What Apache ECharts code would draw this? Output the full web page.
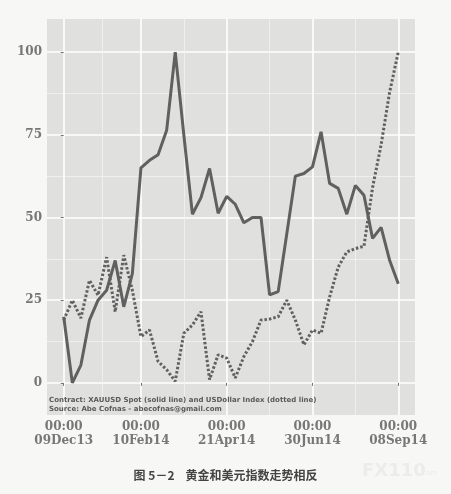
<!DOCTYPE html>
<html>
<head>
<meta charset="utf-8">
<script src="https://cdn.jsdelivr.net/npm/echarts@6/dist/echarts.min.js"></script>
<style>
  html, body { margin: 0; padding: 0; background: #f7f7f6; }
  #chart { width: 451px; height: 494px; }
</style>
</head>
<body>
<div id="chart"></div>
<script>
// weekly index, 0 = 09Dec13 ... 39 = 08Sep14
const goldSpot = [
  20, 0, 5.4, 19, 25, 28, 37, 23, 33, 65,
  67.3, 69, 76.4, 100, 75, 51, 56, 64.8, 51.3, 56.4,
  54, 48.4, 50, 50, 26.6, 27.6, 45, 62.5, 63.3, 65.3,
  75.9, 60.3, 58.8, 51, 59.7, 56.7, 43.7, 47, 37, 30
];
const dollarIndex = [
  19, 25, 19.6, 31, 26.5, 38, 21.5, 38.6, 28, 14,
  16, 6.5, 4, 0.5, 15, 17.5, 21.5, 1, 8.5, 7.5,
  1.5, 8, 12.5, 19, 19.3, 20, 25, 19, 11.5, 16,
  15, 26, 35, 39.6, 40.6, 41.3, 59, 72, 88, 100
];
const xTickWeeks = [0, 9, 19, 29, 39];
const xTickLabels = ['00:00\n09Dec13', '00:00\n10Feb14', '00:00\n21Apr14', '00:00\n30Jun14', '00:00\n08Sep14'];
const xMinorWeeks = [4.5, 14, 24, 34];
const yTicks = [0, 25, 50, 75, 100];
const yMinor = [12.5, 37.5, 62.5, 87.5];

const noteLines = [
  'Contract: XAUUSD Spot (solid line) and USDollar Index (dotted line)',
  'Source: Abe Cofnas - abecofnas@gmail.com'
];
const caption = '图 5－2    黄金和美元指数走势相反';

const lineColor = '#606060';
const tickFont = { fontFamily: 'DejaVu Serif', fontWeight: 'bold', fontSize: 12, color: '#777777' };

function pairs(values) {
  return values.map((v, i) => [i, v]);
}

const chart = echarts.init(document.getElementById('chart'), null, { renderer: 'canvas' });

const xMin = -1.95, xMax = 40.95, yMin = -9.7, yMax = 110;

chart.setOption({
  animation: false,
  backgroundColor: '#f7f7f6',
  grid: { left: 47, right: 36, top: 19, bottom: 79, show: true, backgroundColor: '#e0e0df', borderWidth: 0 },
  xAxis: [
    {
      type: 'value', min: xMin, max: xMax,
      axisLine: { show: false },
      axisTick: { show: true, customValues: xTickWeeks, length: 3, lineStyle: { color: '#777', width: 1 } },
      axisLabel: {
        customValues: xTickWeeks,
        formatter: v => xTickLabels[xTickWeeks.indexOf(v)],
        margin: 5, lineHeight: 14, ...tickFont
      },
      splitLine: { show: true, lineStyle: { color: '#ffffff', width: 1.6 } }
    },
    {
      type: 'value', min: xMin, max: xMax, position: 'bottom',
      axisLine: { show: false },
      axisTick: { show: false, customValues: xMinorWeeks },
      axisLabel: { show: false, customValues: xMinorWeeks },
      splitLine: { show: true, lineStyle: { color: '#f2f2f2', width: 0.8 } }
    }
  ],
  yAxis: [
    {
      type: 'value', min: yMin, max: yMax,
      axisLine: { show: false },
      axisTick: { show: true, customValues: yTicks, length: 3, lineStyle: { color: '#777', width: 1 } },
      axisLabel: { customValues: yTicks, margin: 5, ...tickFont },
      splitLine: { show: true, lineStyle: { color: '#ffffff', width: 1.6 } }
    },
    {
      type: 'value', min: yMin, max: yMax, position: 'left',
      axisLine: { show: false },
      axisTick: { show: false, customValues: yMinor },
      axisLabel: { show: false, customValues: yMinor },
      splitLine: { show: true, lineStyle: { color: '#f2f2f2', width: 0.8 } }
    }
  ],
  series: [
    {
      name: 'XAUUSD Spot', type: 'line', data: pairs(goldSpot),
      showSymbol: false, z: 3,
      lineStyle: { color: lineColor, width: 3 }
    },
    {
      name: 'USDollar Index', type: 'line', data: pairs(dollarIndex),
      showSymbol: false, z: 3,
      lineStyle: { color: lineColor, width: 3, type: [2.5, 2] }
    }
  ],
  graphic: [
    {
      type: 'text', left: 49, top: 396, z: 100,
      style: {
        text: noteLines.join('\n'), lineHeight: 9,
        font: 'bold 7px "DejaVu Sans"', fill: '#5a5a5a'
      }
    },
    {
      type: 'text', left: 'center', top: 469, z: 100,
      style: { text: caption, font: 'bold 12px "Noto Sans CJK SC"', fill: '#444' }
    },
    {
      type: 'text', left: 362, top: 462, z: 100,
      style: { text: 'FX110', font: 'bold 18px "DejaVu Sans"', fill: '#ececec' }
    },
    {
      type: 'text', left: 420, top: 470, z: 100,
      style: { text: '.com', font: '7px "DejaVu Sans"', fill: '#ececec' }
    }
  ]
});
</script>
</body>
</html>
